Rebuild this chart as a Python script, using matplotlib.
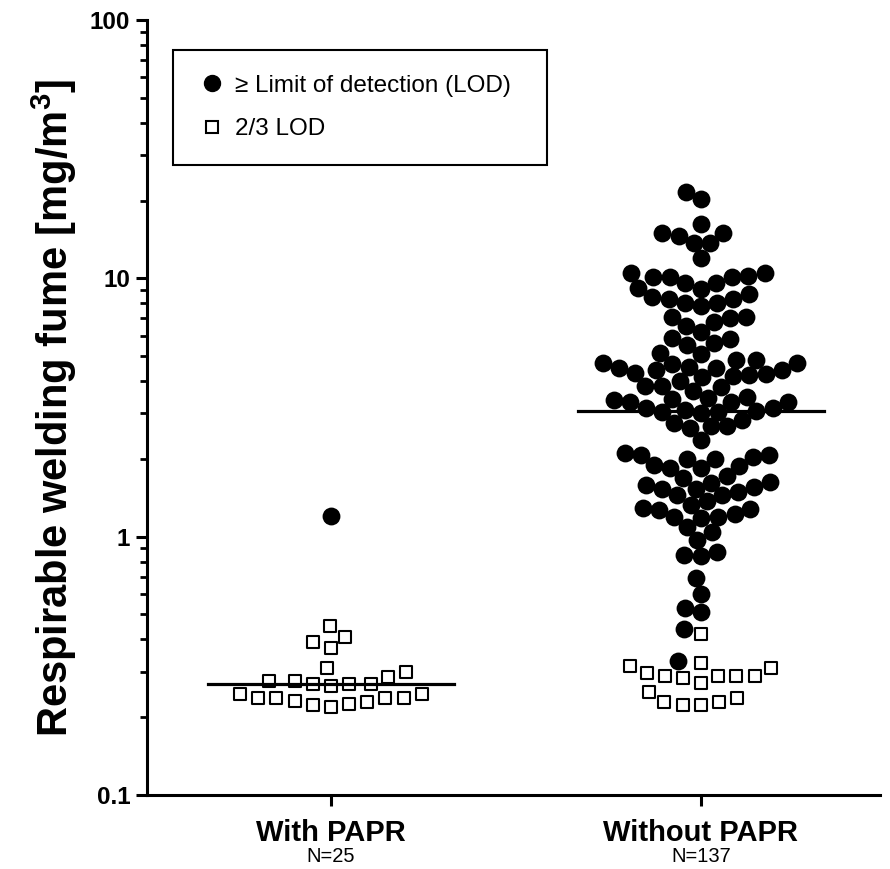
import numpy as np
import matplotlib
matplotlib.use('Agg')
import matplotlib.pyplot as plt
from matplotlib.ticker import NullFormatter
from matplotlib.lines import Line2D

groups = ['With PAPR', 'Without PAPR']
group_n = ['N=25', 'N=137']

# measurements >= limit of detection (filled circles), mg/m3
with_lod = [1.2]
without_lod = [
    21.5, 20.2, 16.3, 15.0, 14.6, 15.0, 13.7, 13.7, 12.0,
    10.5, 10.1, 10.1, 9.6, 9.1, 9.2, 9.6, 10.1, 10.2, 10.5,
    8.5, 8.3, 8.05, 7.8, 8.05, 8.3, 8.7,
    7.1, 6.8, 6.55, 7.05, 7.1,
    5.9, 5.6, 6.2, 5.15, 5.1, 5.5, 5.8,
    4.85, 4.7, 4.65, 4.5, 4.4, 4.3, 4.24, 4.16, 4.2, 4.28, 4.4, 4.5, 4.55, 4.7, 4.85,
    4.0, 3.84, 3.67, 3.78, 3.84,
    3.45, 3.42, 3.48,
    3.39, 3.33, 3.16, 3.05, 3.02, 3.07, 3.16, 3.33, 3.33, 3.10, 3.05,
    2.67, 2.64, 2.84, 2.67, 2.76, 2.37,
    2.08, 2.04, 2.00, 1.88, 1.85, 1.85, 1.90, 1.99, 2.08, 2.11,
    1.71, 1.63, 1.58, 1.53, 1.53, 1.55, 1.62, 1.68,
    1.45, 1.45, 1.49,
    1.37, 1.22, 1.29, 1.195, 1.27, 1.28, 1.33, 1.185, 1.195,
    1.09, 1.045, 0.97,
    0.87, 0.84, 0.85,
    0.69, 0.60, 0.51, 0.53, 0.44, 0.33]

# values set to 2/3 LOD (open squares)
with_sub = [0.45, 0.41, 0.39, 0.37,
            0.30, 0.31, 0.287, 0.277, 0.277, 0.27, 0.268, 0.264, 0.27,
            0.245, 0.238, 0.238, 0.23, 0.224, 0.22, 0.226, 0.232, 0.238, 0.238, 0.245]
without_sub = [0.42, 0.311, 0.29, 0.29, 0.284, 0.325, 0.272, 0.29, 0.29, 0.297, 0.317,
               0.238, 0.23, 0.224, 0.224, 0.23, 0.251]

plt.rcParams['font.family'] = ['Liberation Sans', 'DejaVu Sans']


def swarm(ys_px, radii, k=0.92):
    # simple beeswarm: place each point nearest the centre without overlap
    order = np.argsort(ys_px)
    xs = np.zeros(len(ys_px))
    placed = []
    for i in order:
        y, r = ys_px[i], radii[i]
        cands = [0.0]
        for px, py, pr in placed:
            d = (r + pr) * k
            dy = y - py
            if abs(dy) < d:
                dx = np.sqrt(d * d - dy * dy)
                cands += [px + dx, px - dx]
        cands.sort(key=lambda c: (round(abs(c), 3), c))
        for c in cands:
            if all((c - px) ** 2 + (y - py) ** 2 >= ((r + pr) * k) ** 2 - 1e-6
                   for px, py, pr in placed):
                xs[i] = c
                break
        placed.append((xs[i], y, r))
    return xs


fig = plt.figure(figsize=(8.9, 8.69), dpi=100)
ax = fig.add_axes([147 / 890, 74 / 869, 733 / 890, 775 / 869])
ax.set_yscale('log')
ax.set_ylim(0.1, 100)
ax.set_xlim(0.503, 2.484)

x_unit = ax.transData.transform((1, 1))[0] - ax.transData.transform((0, 1))[0]

data = [(with_lod, with_sub), (without_lod, without_sub)]
for pos, (lod, sub) in enumerate(data, start=1):
    vals = np.array(lod + sub)
    kinds = np.array([0] * len(lod) + [1] * len(sub))
    ys_px = ax.transData.transform(np.column_stack([np.full(len(vals), pos), vals]))[:, 1]
    radii = np.where(kinds == 0, 9.0, 10.0)
    offs = swarm(ys_px, radii) / x_unit
    xs = pos + offs
    ax.scatter(xs[kinds == 0], vals[kinds == 0], s=165, marker='o', color='black',
               linewidths=0, zorder=3)
    ax.scatter(xs[kinds == 1], vals[kinds == 1], s=70, marker='s', facecolor='white',
               edgecolor='black', linewidths=1.5, zorder=3)
    med = np.median(vals)
    ax.plot([pos - 0.333, pos + 0.333], [med, med], color='black', lw=2.3, zorder=4)

ax.spines['top'].set_visible(False)
ax.spines['right'].set_visible(False)
ax.spines['left'].set_linewidth(2.2)
ax.spines['bottom'].set_linewidth(2.2)

ax.set_yticks([0.1, 1, 10, 100])
ax.set_yticklabels(['0.1', '1', '10', '100'], fontsize=17.5, fontweight='bold')
ax.yaxis.set_minor_formatter(NullFormatter())
ax.tick_params(axis='y', which='major', length=8, width=2.2, pad=4)
ax.tick_params(axis='y', which='minor', length=5, width=2)

ax.set_xticks([1, 2])
ax.set_xticklabels(groups, fontsize=21, fontweight='bold')
ax.tick_params(axis='x', length=8, width=2.2, pad=9)
for pos, n in enumerate(group_n, start=1):
    ax.text(pos, -62 / 775, n, transform=ax.get_xaxis_transform(), ha='center',
            va='center', fontsize=14.5)

ax.set_ylabel('Respirable welding fume [mg/m$^\\mathregular{3}$]', fontsize=30,
              fontweight='bold', labelpad=8)

handles = [Line2D([], [], marker='o', ls='none', color='black', markersize=11.5),
           Line2D([], [], marker='s', ls='none', markerfacecolor='white',
                  markeredgecolor='black', markeredgewidth=1.5, markersize=8.5)]
leg = ax.legend(handles, ['\u2265 Limit of detection (LOD)', '2/3 LOD'],
                loc='upper left', bbox_to_anchor=(0.0355, 0.961, 0.51, 0.0),
                mode='expand', fancybox=False, edgecolor='black', framealpha=1,
                prop={'size': 17.5}, handletextpad=0.35, borderaxespad=0,
                labelspacing=0.9, borderpad=1.0, handlelength=1.2)
leg.get_frame().set_linewidth(1.5)

fig.savefig('out.png', dpi=100)
